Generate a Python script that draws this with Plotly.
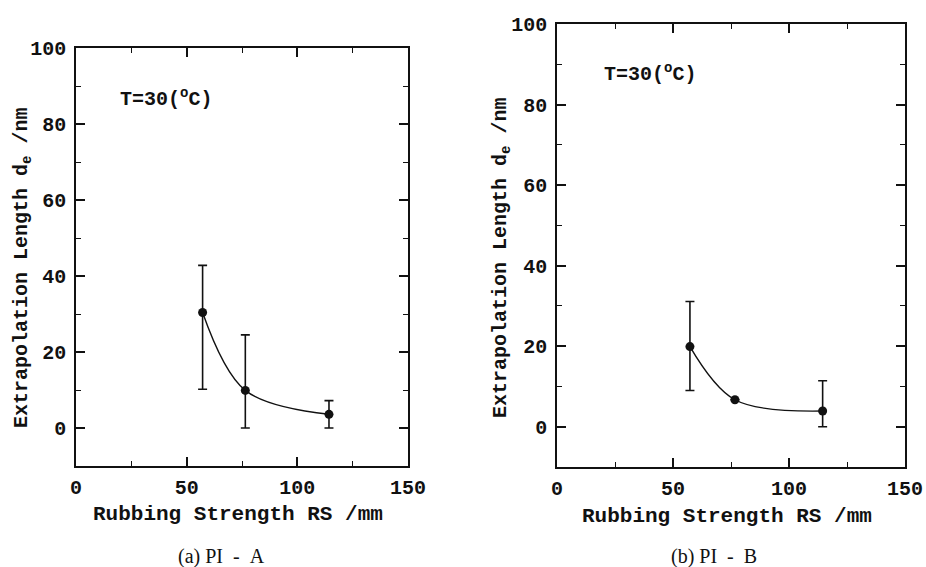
import plotly.graph_objects as go

# ---- data ----
rs_a = [57.2, 76.5, 114.3]
de_a = [30.4, 9.9, 3.6]
de_a_upper = [42.8, 24.5, 7.2]
de_a_lower = [10.2, 0.0, 0.0]

rs_b = [57.3, 76.7, 114.5]
de_b = [19.9, 6.7, 3.9]
de_b_upper = [31.1, 6.7, 11.4]
de_b_lower = [9.0, 6.7, 0.0]

x_ticks = [0, 50, 100, 150]
y_ticks = [0, 20, 40, 60, 80, 100]
captions = ["(a) PI\u00a0\u00a0-\u00a0\u00a0A", "(b) PI\u00a0\u00a0-\u00a0\u00a0B"]
note = "T=30(<sup>o</sup>C)"
x_title = "Rubbing Strength RS /mm"
y_title = "Extrapolation Length d<sub>e</sub> /nm"

INK = "#111111"
MONO = "Liberation Mono, Courier New, monospace"
SERIF = "Liberation Serif, Times New Roman, serif"

W, H = 926, 567


def px(xw):
    return xw / W


def py(yw):
    return 1 - yw / H


fig = go.Figure()


def add_panel(x, y, up, lo, xa, ya):
    plus = [u - v for u, v in zip(up, y)]
    minus = [v - l for v, l in zip(y, lo)]
    fig.add_trace(go.Scatter(
        x=x, y=y, xaxis=xa, yaxis=ya, mode="lines+markers",
        line=dict(color=INK, width=1.4, shape="spline", smoothing=1.0),
        marker=dict(color=INK, size=9),
        error_y=dict(type="data", symmetric=False, array=plus, arrayminus=minus,
                     color=INK, thickness=1.6, width=4.5),
        showlegend=False, hoverinfo="x+y",
    ))


add_panel(rs_a, de_a, de_a_upper, de_a_lower, "x", "y")
add_panel(rs_b, de_b, de_b_upper, de_b_lower, "x2", "y2")

tickfont = dict(family=MONO, size=20, color=INK, weight="bold")


def xax(domain, anchor):
    return dict(domain=domain, anchor=anchor, range=[0, 150], tickvals=x_ticks,
                ticktext=[str(v) for v in x_ticks],
                showline=True, linecolor=INK, linewidth=1.6, mirror="ticks",
                ticks="inside", ticklen=9, tickwidth=1.5, tickcolor=INK,
                minor=dict(dtick=25, tick0=0, ticks="inside", ticklen=5, tickwidth=1.2, tickcolor=INK),
                showgrid=False, zeroline=False, tickfont=tickfont, automargin=False,
                ticklabelstandoff=2, fixedrange=True)


def yax(domain, anchor):
    return dict(domain=domain, anchor=anchor, range=[-10, 100], tickvals=y_ticks,
                ticktext=[str(v) for v in y_ticks],
                showline=True, linecolor=INK, linewidth=1.6, mirror="ticks",
                ticks="inside", ticklen=9, tickwidth=1.5, tickcolor=INK,
                minor=dict(dtick=10, tick0=0, ticks="inside", ticklen=5, tickwidth=1.2, tickcolor=INK),
                showgrid=False, zeroline=False, tickfont=tickfont, automargin=False,
                ticklabelstandoff=4, fixedrange=True)


fig.update_layout(
    width=W, height=H, margin=dict(l=0, r=0, t=0, b=0),
    paper_bgcolor="white", plot_bgcolor="white",
    xaxis=xax([px(76), px(408)], "y"),
    yaxis=yax([py(466), py(48)], "x"),
    xaxis2=xax([px(557), px(905)], "y2"),
    yaxis2=yax([py(467), py(24)], "x2"),
)

labfont = dict(family=MONO, size=20, color=INK, weight="bold")
titlefont = dict(family=MONO, size=21, color=INK, weight="bold")
capfont = dict(family=SERIF, size=20, color=INK)
ann = []
# panel (a)
ann.append(dict(text=note, x=px(118), y=py(98), xanchor="left", yanchor="middle", font=labfont))
ann.append(dict(text=x_title, x=px(238), y=py(514), xanchor="center", yanchor="middle", font=titlefont))
ann.append(dict(text=y_title, x=px(22), y=py(268), xanchor="center", yanchor="middle", textangle=-90, font=labfont))
ann.append(dict(text=captions[0], x=px(221), y=py(556), xanchor="center", yanchor="middle", font=capfont))
# panel (b)
ann.append(dict(text=note, x=px(602), y=py(73), xanchor="left", yanchor="middle", font=labfont))
ann.append(dict(text=x_title, x=px(727), y=py(516), xanchor="center", yanchor="middle", font=titlefont))
ann.append(dict(text=y_title, x=px(501), y=py(258), xanchor="center", yanchor="middle", textangle=-90, font=labfont))
ann.append(dict(text=captions[1], x=px(714), y=py(556), xanchor="center", yanchor="middle", font=capfont))
for a in ann:
    a.update(xref="paper", yref="paper", showarrow=False)
fig.update_layout(annotations=ann)

# remove the default page margin so the figure fills the window exactly
fig.write_html("out.html", config={"displayModeBar": False},
               post_script="document.body.style.margin='0';document.body.style.overflow='hidden';")
